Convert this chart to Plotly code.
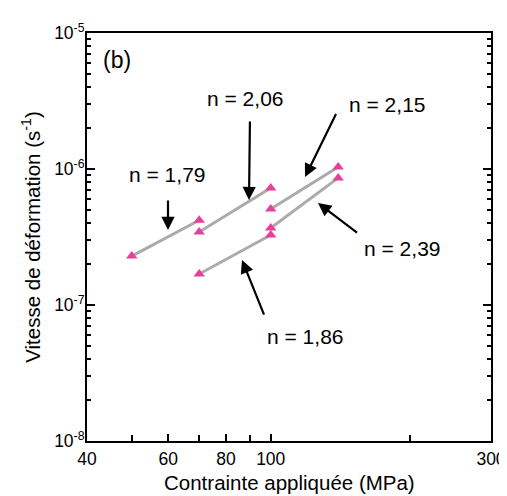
import math
import plotly.graph_objects as go

# Data (stress in MPa, strain rate in s^-1)
s179_x = [50, 70]
s179_y = [2.29e-7, 4.2e-7]
s206_x = [70, 100]
s206_y = [3.44e-7, 7.25e-7]
s215_x = [100, 140]
s215_y = [5.08e-7, 1.035e-6]
s239_x = [100, 140]
s239_y = [3.68e-7, 8.6e-7]
s186_x = [70, 100]
s186_y = [1.69e-7, 3.27e-7]

series = [(s179_x, s179_y), (s206_x, s206_y), (s215_x, s215_y),
          (s239_x, s239_y), (s186_x, s186_y)]

labels = ["n = 1,79", "n = 2,06", "n = 2,15", "n = 2,39", "n = 1,86"]

x_tickvals = [40, 60, 80, 100, 300]
x_ticktext = ["40", "60", "80", "100", "300"]
x_minor = [50, 70, 90, 200]
y_tickvals = [1e-8, 1e-7, 1e-6, 1e-5]
y_ticktext = ["10<sup>-8</sup>", "10<sup>-7</sup>", "10<sup>-6</sup>", "10<sup>-5</sup>"]
y_minor = [m * 10.0 ** e for e in (-8, -7, -6) for m in range(2, 10)]

LINE = "#ABABAB"
PINK = "#E8409A"
FONT = "Liberation Sans, Arial, sans-serif"

fig = go.Figure()
for xs, ys in series:
    fig.add_trace(go.Scatter(x=xs, y=ys, mode="lines",
                             line=dict(color=LINE, width=3), showlegend=False,
                             hoverinfo="skip"))
for xs, ys in series:
    fig.add_trace(go.Scatter(x=xs, y=ys, mode="markers",
                             marker=dict(symbol="triangle-up", size=10, color=PINK,
                                         line=dict(width=0)),
                             showlegend=False))

# arrows: tip in log10 data coords, tail in pixel offsets
arrows = [
    (1.7775, -6.4485, 0, -38),
    (1.953, -6.228, 1, -87),
    (2.0743, -6.0588, 34, -69),
    (2.1024, -6.25, 42, 32),
    (1.9378, -6.669, 25, 62),
]
for x, y, ax, ay in arrows:
    fig.add_annotation(x=x, y=y, ax=ax, ay=ay, xref="x", yref="y",
                       text=" ", showarrow=True, arrowhead=2, arrowsize=1.2,
                       arrowwidth=2.2, arrowcolor="black", standoff=0, startstandoff=0)

text_pos = [
    (1.7754, -6.044),
    (1.9443, -5.478),
    (2.2519, -5.529),
    (2.2844, -6.581),
    (2.0743, -7.235),
]
for (x, y), t in zip(text_pos, labels):
    fig.add_annotation(x=x, y=y, xref="x", yref="y", text=t, showarrow=False,
                       font=dict(size=21, color="black", family=FONT))

fig.add_annotation(x=1.667, y=-5.199, xref="x", yref="y", text="(b)", showarrow=False,
                   font=dict(size=23, color="black", family=FONT))

# x-axis title, placed below the tick labels
fig.add_annotation(x=0.5, y=0, xref="paper", yref="paper", yanchor="middle",
                   yshift=-41, text="Contrainte appliquée (MPa)", showarrow=False,
                   font=dict(size=20.5, color="black", family=FONT))

# The page body has an 8px margin; shrink the figure so the plot box lands
# at x 87..491, y 33..441 of the window.
fig.update_layout(
    width=499, height=488,
    margin=dict(l=79, r=16, t=25, b=55),
    paper_bgcolor="white", plot_bgcolor="white",
    font=dict(family=FONT, color="black"),
    showlegend=False,
)
fig.update_xaxes(
    type="log", range=[math.log10(40), math.log10(300)],
    tickvals=x_tickvals, ticktext=x_ticktext, automargin=False,
    ticks="inside", ticklen=7, tickwidth=2, tickcolor="black",
    minor=dict(tickvals=x_minor, ticks="inside", ticklen=6, tickwidth=2, tickcolor="black"),
    showline=True, linewidth=2, linecolor="black", mirror=True,
    showgrid=False, zeroline=False,
    tickfont=dict(size=17.5), ticklabelstandoff=1,
)
fig.update_yaxes(
    type="log", range=[-8, -5], automargin="left",
    tickvals=y_tickvals, ticktext=y_ticktext,
    ticks="inside", ticklen=8, tickwidth=2, tickcolor="black",
    minor=dict(tickvals=y_minor, ticks="inside", ticklen=4, tickwidth=2, tickcolor="black"),
    showline=True, linewidth=2, linecolor="black", mirror="ticks",
    showgrid=False, zeroline=False,
    tickfont=dict(size=17.5), ticklabelstandoff=-3,
    title=dict(text="Vitesse de déformation (s<sup>-1</sup>)", font=dict(size=20.5), standoff=8),
)

fig.write_html("out.html")
